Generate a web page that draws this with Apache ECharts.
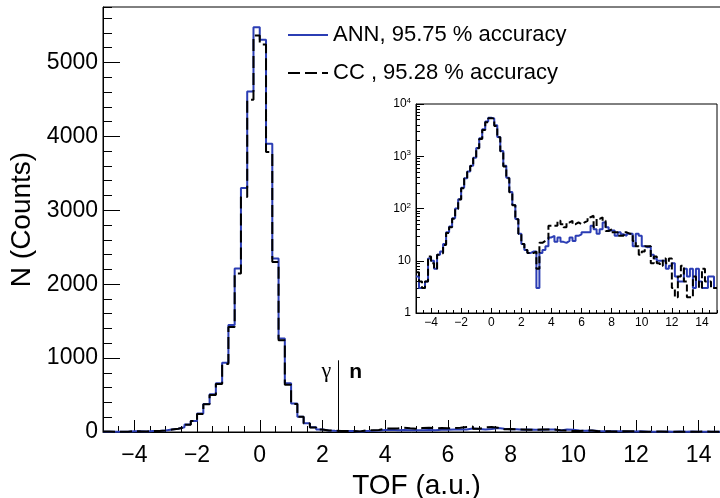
<!DOCTYPE html>
<html><head><meta charset="utf-8">
<script src="https://cdn.jsdelivr.net/npm/echarts@6/dist/echarts.min.js"></script>
<style>html,body{margin:0;padding:0;background:#fff}#c{width:720px;height:498px}</style>
</head><body><div id="c"></div>
<script>
// ---- data ----
const binStart = -5;
const binWidth = 0.2;
const annName = 'ANN, 95.75 % accuracy';
const ccName = 'CC , 95.28 % accuracy';
const annCounts = [
  5, 3, 3, 4, 11, 10, 7, 13, 15, 21, 35, 45, 65, 100, 150, 250, 380, 510, 660, 937,
  1446, 2211, 3302, 4608, 5477, 5306, 3901, 2347, 1266, 658, 387, 207, 117, 63, 33,
  21,16,14,15,15, 3,14,16,19,28, 30,23,28,23,22, 24,28,24,30,32, 35,35,35,47,40,
  33,40,54,44,38, 38,30,35,32,30, 33,33,19,33,30, 19,18,19,13,11, 10,10,10,7,8,
  9,5,4,4,7, 5,7,3,7,4, 3,3,5,5,3
];
const ccCounts = [
  6, 4, 3, 4, 12, 9, 7, 13, 14, 20, 34, 44, 64, 98, 148, 245, 375, 500, 650, 920,
  1420, 2144, 3180, 4496, 5365, 5243, 3788, 2300, 1240, 640, 380, 205, 115, 62, 33,
  21,16,14,14,15, 7,22,24,26,47, 47,47,58,50,44, 54,58,50,54,50, 54,58,68,73,44,
  63,68,58,37,40, 35,35,30,30,35, 33,33,24,19,13, 15,19,19,9,12, 9,8,11,9,11,
  3,2,5,8,4, 2,2,5,4,3, 7,4,4,3,3
];
const xMajorTicks = [-4, -2, 0, 2, 4, 6, 8, 10, 12, 14];
const yMajorTicks = [0, 1000, 2000, 3000, 4000, 5000];
const logMajorTicks = [1, 10, 100, 1000, 10000];
const logMinorTicks = [2,3,4,5,6,7,8,9,20,30,40,50,60,70,80,90,200,300,400,500,600,700,800,900,2000,3000,4000,5000,6000,7000,8000,9000];
const separatorTOF = 2.5;
const separatorTop = 970;

// ---- build ----
function stepData(counts) {
  const d = counts.map((v, i) => [binStart + i * binWidth, v]);
  d.push([binStart + counts.length * binWidth, counts[counts.length - 1]]);
  return d;
}
const FONT = 'Liberation Sans';
const BLUE = '#2b3db4';
const minus = v => String(v).replace('-', '\u2212');
const plain = v => String(v);

const chart = echarts.init(document.getElementById('c'), null, {renderer: 'canvas'});
const option = {
  animation: false,
  backgroundColor: '#fff',
  textStyle: {fontFamily: FONT},
  grid: [
    {left: 103, top: 7, right: -10, bottom: 66, show: true, borderColor: '#000', borderWidth: 1, outerBoundsMode: 'none', containLabel: false},
    {left: 416, top: 104, width: 301, height: 209, show: true, borderColor: '#000', borderWidth: 1, backgroundColor: '#fff', z: 5, outerBoundsMode: 'none', containLabel: false}
  ],
  legend: {
    left: 282, top: 18, orient: 'vertical', itemWidth: 40, itemHeight: 14, itemGap: 14,
    data: [annName, ccName],
    itemStyle: {opacity: 0},
    textStyle: {fontSize: 22, color: '#000', fontFamily: FONT, lineHeight: 24}
  },
  xAxis: [
    {gridIndex: 0, type: 'value', position: 'bottom', min: -5, max: 15, interval: 0.5,
     axisLine: {onZero: false, lineStyle: {color: '#000', width: 1}},
     axisTick: {inside: true, length: 12, customValues: xMajorTicks, lineStyle: {color: '#000'}},
     axisLabel: {customValues: xMajorTicks, formatter: minus, fontSize: 23, color: '#000', margin: 12, fontFamily: FONT},
     splitLine: {show: false},
     name: 'TOF (a.u.)', nameLocation: 'middle', nameGap: 35,
     nameTextStyle: {fontSize: 28, color: '#000', fontFamily: FONT}},
    {gridIndex: 0, type: 'value', position: 'bottom', min: -5, max: 15, interval: 0.5,
     axisLine: {show: false, onZero: false}, axisLabel: {show: false}, splitLine: {show: false},
     axisTick: {inside: true, length: 6, lineStyle: {color: '#000'}}},
    {gridIndex: 1, type: 'value', position: 'bottom', min: -5, max: 15, interval: 0.5, z: 6,
     axisLine: {onZero: false, lineStyle: {color: '#000', width: 1}},
     axisTick: {inside: true, length: 5, customValues: xMajorTicks, lineStyle: {color: '#000'}},
     axisLabel: {customValues: xMajorTicks, formatter: minus, fontSize: 12, color: '#000', margin: 4, fontFamily: FONT},
     splitLine: {show: false}},
    {gridIndex: 1, type: 'value', position: 'bottom', min: -5, max: 15, interval: 0.5, z: 6,
     axisLine: {show: false, onZero: false}, axisLabel: {show: false}, splitLine: {show: false},
     axisTick: {inside: true, length: 3, lineStyle: {color: '#000'}}}
  ],
  yAxis: [
    {gridIndex: 0, type: 'value', position: 'left', min: 0, max: 5750, interval: 200,
     axisLine: {show: true, onZero: false, lineStyle: {color: '#000', width: 1}},
     axisTick: {show: true, inside: true, length: 17, customValues: yMajorTicks, lineStyle: {color: '#000'}},
     axisLabel: {customValues: yMajorTicks, formatter: plain, fontSize: 23, color: '#000', margin: 5, fontFamily: FONT},
     splitLine: {show: false},
     name: 'N (Counts)', nameLocation: 'middle', nameGap: 54,
     nameTextStyle: {fontSize: 28, color: '#000', fontFamily: FONT}},
    {gridIndex: 1, type: 'log', position: 'left', logBase: 10, min: 1, max: 10000, z: 6,
     axisLine: {show: true, onZero: false, lineStyle: {color: '#000', width: 1}},
     axisTick: {show: true, inside: true, length: 8, customValues: logMajorTicks, lineStyle: {color: '#000'}},
     axisLabel: {customValues: logMajorTicks, fontSize: 12, color: '#000', margin: 5, fontFamily: FONT,
       formatter: v => { const e = Math.round(Math.log10(v)); return e === 0 ? '1' : e === 1 ? '10' : '10{s|' + e + '}'; },
       rich: {s: {fontSize: 8, verticalAlign: 'top', padding: [0, 0, 6, 0], fontFamily: FONT, color: '#000'}}},
     splitLine: {show: false}},
    {gridIndex: 0, type: 'value', position: 'left', min: 0, max: 5750, interval: 200,
     axisLine: {show: false, onZero: false}, axisLabel: {show: false}, splitLine: {show: false},
     axisTick: {show: true, inside: true, length: 9, lineStyle: {color: '#000'}}},
    {gridIndex: 1, type: 'log', position: 'left', logBase: 10, min: 1, max: 10000, z: 6,
     axisLine: {show: false, onZero: false}, axisLabel: {show: false}, splitLine: {show: false},
     axisTick: {show: true, inside: true, length: 4, customValues: logMinorTicks, lineStyle: {color: '#000'}}}
  ],
  series: [
    {name: annName, type: 'line', step: 'end', xAxisIndex: 0, yAxisIndex: 0, symbol: 'none', z: 2,
     lineStyle: {color: BLUE, width: 2}, itemStyle: {color: BLUE}, data: stepData(annCounts)},
    {name: ccName, type: 'line', step: 'end', xAxisIndex: 0, yAxisIndex: 0, symbol: 'none', z: 3,
     lineStyle: {color: '#000', width: 2, type: [12, 5]}, itemStyle: {color: '#000'}, data: stepData(ccCounts),
     markLine: {silent: true, symbol: ['none', 'none'], label: {show: false},
       lineStyle: {color: '#000', width: 1, type: 'solid'},
       data: [[{coord: [separatorTOF, 0]}, {coord: [separatorTOF, separatorTop]}]]}},
    {name: annName, type: 'line', step: 'end', xAxisIndex: 2, yAxisIndex: 1, symbol: 'none', z: 7,
     lineStyle: {color: BLUE, width: 2}, itemStyle: {color: BLUE}, data: stepData(annCounts)},
    {name: ccName, type: 'line', step: 'end', xAxisIndex: 2, yAxisIndex: 1, symbol: 'none', z: 8,
     lineStyle: {color: '#000', width: 2, type: [7, 3]}, itemStyle: {color: '#000'}, data: stepData(ccCounts)}
  ]
};
chart.setOption(option);
const sepPx = chart.convertToPixel({xAxisIndex: 0, yAxisIndex: 0}, [separatorTOF, separatorTop]);
chart.setOption({graphic: [
  {type: 'text', x: sepPx[0] - 7, y: sepPx[1], style: {text: '\u03b3', fontSize: 22, fontFamily: 'Liberation Serif', fill: '#000', align: 'right', verticalAlign: 'top'}},
  {type: 'text', x: sepPx[0] + 11, y: sepPx[1] + 1, style: {text: 'n', fontSize: 21, fontWeight: 'bold', fontFamily: FONT, fill: '#000', align: 'left', verticalAlign: 'top'}}
]});
</script></body></html>
